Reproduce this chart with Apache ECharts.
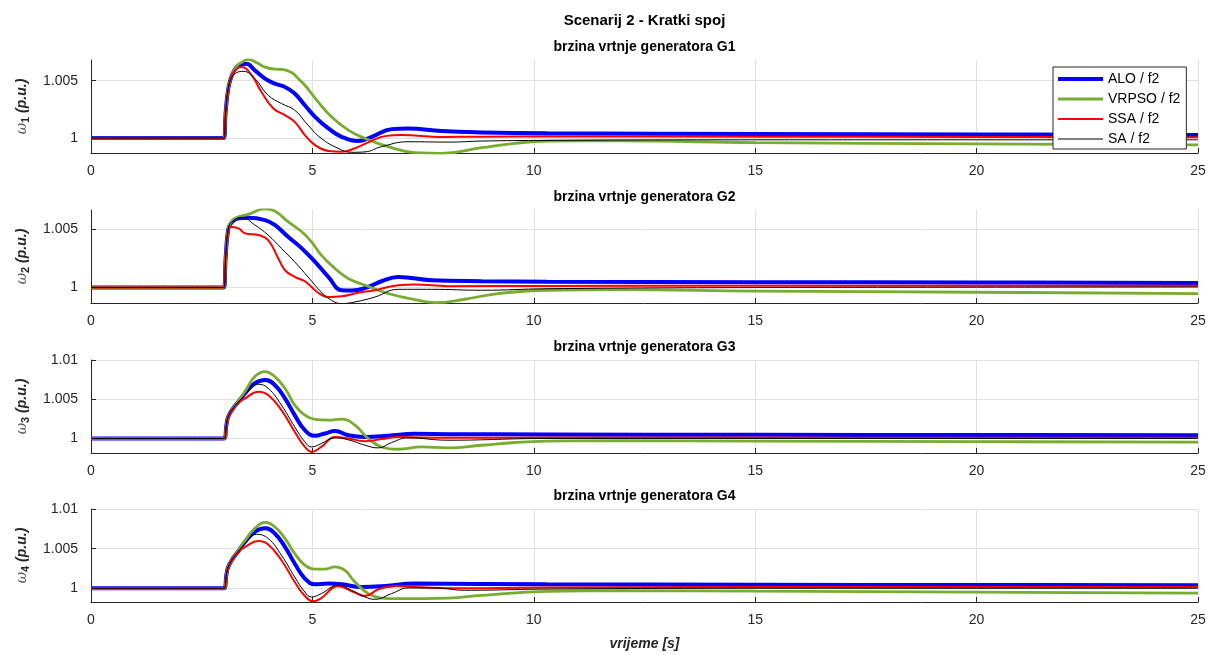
<!DOCTYPE html>
<html>
<head>
<meta charset="utf-8">
<script src="https://cdn.jsdelivr.net/npm/echarts@6/dist/echarts.min.js"></script>
<style>html,body{margin:0;padding:0;background:#fff;}#c{width:1210px;height:655px;}</style>
</head>
<body>
<div id="c"></div>
<script>
// ---- data ----
const seriesNames = ['ALO / f2', 'VRPSO / f2', 'SSA / f2', 'SA / f2'];
const plotTitles = ['brzina vrtnje generatora G1', 'brzina vrtnje generatora G2', 'brzina vrtnje generatora G3', 'brzina vrtnje generatora G4'];
const xTicks = [0, 5, 10, 15, 20, 25];
const yTicks = [[1, 1.005], [1, 1.005], [1, 1.005, 1.01], [1, 1.005, 1.01]];
const yRanges = [[0.9987, 1.0068], [0.99868, 1.00663], [0.99815, 1.01], [0.99827, 1.01]];

// G1
const g1_ALO = [[0,1],[3.0,1.0],[3.04,1.0022],[3.1,1.0043],[3.18,1.00546],[3.29,1.0062],[3.4,1.0064],[3.51,1.00648],[3.7,1.0059],[3.93,1.00518],[4.15,1.00474],[4.38,1.00445],[4.6,1.00388],[4.83,1.00286],[5.06,1.00185],[5.36,1.00084],[5.66,1.00011],[6.03,0.99974],[6.34,1.00011],[6.79,1.00078],[7.16,1.00084],[7.92,1.00061],[8.82,1.00049],[10.3,1.00041],[15,1.00036],[20,1.00031],[25,1.00027]];
const g1_VRPSO = [[0,1],[3.0,1.0],[3.04,1.0022],[3.1,1.0043],[3.18,1.00546],[3.29,1.00627],[3.4,1.00658],[3.55,1.00685],[3.75,1.00655],[3.93,1.00618],[4.15,1.006],[4.3,1.00598],[4.45,1.00585],[4.57,1.00561],[4.7,1.0051],[4.83,1.0046],[5.13,1.00315],[5.43,1.00185],[5.81,1.00069],[6.19,0.99997],[6.71,0.99925],[7.31,0.99873],[7.92,0.99867],[8.82,0.99916],[9.57,0.99954],[10.3,0.99974],[12,0.99975],[15,0.9996],[20,0.9995],[25,0.9994]];
const g1_SSA = [[0,1],[3.0,1.0],[3.04,1.0022],[3.1,1.0043],[3.18,1.00546],[3.29,1.00604],[3.4,1.00618],[3.63,1.00546],[3.85,1.00401],[4.12,1.00257],[4.38,1.002],[4.6,1.00141],[4.83,1.00026],[5.06,0.99939],[5.36,0.99887],[5.66,0.99881],[5.96,0.99911],[6.26,0.99963],[6.64,1.00017],[7.01,1.00026],[7.92,1.0001],[8.82,1.00012],[10.3,1.00015],[15,1.00012],[20,1.0001],[25,1.00008]];
const g1_SA = [[0,1],[3.0,1.0],[3.04,1.0022],[3.1,1.0043],[3.18,1.0053],[3.29,1.0057],[3.44,1.00581],[3.7,1.00518],[4.0,1.00373],[4.3,1.00301],[4.6,1.00243],[4.9,1.00113],[5.2,0.99997],[5.58,0.99911],[5.88,0.99876],[6.19,0.9988],[6.56,0.99925],[7.16,0.99968],[8.1,0.99965],[8.82,0.99974],[10.3,0.9998],[15,0.99985],[20,0.99985],[25,0.99985]];
// G2
const g2_ALO = [[0,1],[3.0,1.0],[3.04,1.0025],[3.1,1.005],[3.18,1.0056],[3.33,1.00592],[3.55,1.00597],[3.93,1.00577],[4.15,1.00535],[4.45,1.00434],[4.76,1.00335],[5.06,1.0022],[5.36,1.00091],[5.66,0.99977],[5.88,0.99974],[6.26,1.00005],[6.56,1.00054],[6.94,1.00091],[7.69,1.00063],[8.82,1.00054],[10.3,1.0005],[15,1.00046],[20,1.00043],[25,1.0004]];
const g2_VRPSO = [[0,1],[3.0,1.0],[3.04,1.0025],[3.1,1.005],[3.18,1.0057],[3.33,1.00605],[3.55,1.00626],[3.93,1.00672],[4.15,1.00655],[4.45,1.00563],[4.76,1.00477],[4.98,1.00391],[5.2,1.00277],[5.51,1.00163],[5.81,1.00077],[6.19,1.0002],[6.71,0.99949],[7.31,0.99897],[7.77,0.99871],[8.44,0.999],[9.19,0.99949],[10.3,0.99977],[12,0.99982],[15,0.9997],[20,0.9996],[25,0.99948]];
const g2_SSA = [[0,1],[3.0,1.0],[3.04,1.0025],[3.1,1.0049],[3.14,1.0052],[3.33,1.00506],[3.48,1.00463],[3.78,1.00449],[4.0,1.00406],[4.23,1.00249],[4.38,1.00148],[4.6,1.00091],[4.83,1.00054],[4.98,1.00005],[5.15,0.9995],[5.36,0.99919],[5.66,0.99925],[6.03,0.99955],[6.41,0.99977],[6.94,1.0002],[7.31,1.00026],[8.06,1.00012],[10.3,1.00014],[15,1.00016],[20,1.00016],[25,1.00015]];
const g2_SA = [[0,1],[3.0,1.0],[3.04,1.0025],[3.1,1.005],[3.18,1.0056],[3.4,1.006],[3.7,1.00535],[4.0,1.00449],[4.3,1.00335],[4.6,1.0022],[4.9,1.00091],[5.2,0.99962],[5.43,0.99891],[5.66,0.99863],[5.96,0.99877],[6.41,0.99919],[6.94,0.99985],[7.69,0.99985],[8.82,0.99977],[10.3,0.9999],[15,1.0],[20,1.00003],[25,1.00005]];
// G3
const g3_ALO = [[0,1],[3.0,1.0],[3.06,1.0018],[3.1,1.00277],[3.21,1.00384],[3.33,1.00469],[3.48,1.00576],[3.7,1.00704],[3.93,1.00746],[4.15,1.00682],[4.38,1.00512],[4.6,1.00298],[4.83,1.00106],[5.06,1.00034],[5.28,1.00064],[5.51,1.00094],[5.81,1.00042],[6.19,1.0002],[6.71,1.00034],[7.31,1.00059],[8.06,1.00055],[10.3,1.00051],[15,1.00047],[20,1.00044],[25,1.00042]];
const g3_VRPSO = [[0,1],[3.0,1.0],[3.06,1.0018],[3.1,1.00277],[3.21,1.00384],[3.33,1.00475],[3.5,1.0062],[3.7,1.00789],[3.93,1.00853],[4.15,1.00789],[4.38,1.0064],[4.6,1.00426],[4.83,1.00298],[5.06,1.00243],[5.36,1.00234],[5.66,1.00247],[5.96,1.0017],[6.26,1.0],[6.56,0.99892],[6.94,0.99863],[7.46,0.99892],[8.06,0.9988],[8.82,0.99914],[9.57,0.99949],[10.3,0.99966],[12,0.99972],[15,0.99966],[20,0.9996],[25,0.99953]];
const g3_SSA = [[0,1],[3.0,1.0],[3.06,1.0018],[3.1,1.00277],[3.21,1.00384],[3.33,1.00455],[3.48,1.00512],[3.78,1.00597],[4.0,1.00555],[4.3,1.00362],[4.6,1.00085],[4.83,0.99892],[4.98,0.99829],[5.2,0.99892],[5.51,1.0002],[5.81,1.0],[6.19,0.99966],[6.56,0.99992],[6.94,1.0002],[8.06,1.00008],[10.3,1.00013],[15,1.00012],[20,1.0001],[25,1.0001]];
const g3_SA = [[0,1],[3.0,1.0],[3.06,1.0018],[3.1,1.00277],[3.21,1.00384],[3.33,1.00465],[3.48,1.00555],[3.78,1.00691],[4.0,1.0064],[4.3,1.00426],[4.6,1.00149],[4.83,0.99957],[4.98,0.99892],[5.2,0.99936],[5.51,1.00008],[5.81,0.99983],[6.19,0.99914],[6.49,0.9988],[6.79,0.99949],[7.16,1.00008],[8.06,0.99978],[10.3,1.0],[15,1.0],[20,1.0],[25,1.0]];
// G4
const g4_ALO = [[0,1],[3.0,1.0],[3.06,1.0018],[3.1,1.0027],[3.21,1.0038],[3.33,1.0047],[3.48,1.00586],[3.7,1.00713],[3.93,1.00756],[4.15,1.00692],[4.38,1.00523],[4.6,1.00313],[4.83,1.00123],[5.06,1.00051],[5.36,1.00059],[5.66,1.0005],[6.11,1.00016],[6.56,1.00025],[7.31,1.00059],[10.3,1.0005],[15,1.00045],[20,1.00041],[25,1.00038]];
const g4_VRPSO = [[0,1],[3.0,1.0],[3.06,1.0018],[3.1,1.0027],[3.21,1.0038],[3.33,1.00478],[3.5,1.0062],[3.7,1.00756],[3.93,1.00832],[4.15,1.00776],[4.38,1.00629],[4.6,1.00439],[4.83,1.00291],[5.06,1.00241],[5.28,1.00241],[5.51,1.0027],[5.73,1.00228],[5.96,1.0008],[6.26,0.99933],[6.56,0.99877],[6.94,0.9987],[8.06,0.99877],[8.82,0.99911],[10.3,0.99962],[12,0.9997],[15,0.99963],[20,0.99952],[25,0.9994]];
const g4_SSA = [[0,1],[3.0,1.0],[3.06,1.0018],[3.1,1.0027],[3.21,1.0038],[3.33,1.00458],[3.48,1.00523],[3.78,1.00595],[4.0,1.00553],[4.3,1.00354],[4.6,1.0008],[4.83,0.99903],[5.02,0.99835],[5.2,0.99877],[5.58,1.00025],[5.96,0.99946],[6.19,0.99903],[6.49,0.99987],[6.86,1.00029],[7.31,1.00017],[8.06,1.0],[10.3,1.0001],[15,1.00015],[20,1.00015],[25,1.00015]];
const g4_SA = [[0,1],[3.0,1.0],[3.06,1.0018],[3.1,1.0027],[3.21,1.0038],[3.33,1.00468],[3.48,1.00566],[3.74,1.0068],[4.0,1.00629],[4.3,1.00418],[4.6,1.00143],[4.83,0.99953],[4.98,0.9989],[5.2,0.99933],[5.58,1.00038],[5.88,0.99975],[6.19,0.9989],[6.41,0.99861],[6.79,0.99933],[7.16,1.00004],[7.8,1.00004],[8.44,0.99975],[10.3,0.9999],[15,1.0],[20,1.0],[25,1.0]];

const allData = [
  [g1_ALO, g1_VRPSO, g1_SSA, g1_SA],
  [g2_ALO, g2_VRPSO, g2_SSA, g2_SA],
  [g3_ALO, g3_VRPSO, g3_SSA, g3_SA],
  [g4_ALO, g4_VRPSO, g4_SSA, g4_SA]
];

// ---- styling / layout ----
const FONT = '"Liberation Sans", Arial, Helvetica, sans-serif';
const AX = '#262626';
const GRIDC = '#e0e0e0';
const colors = ['#0000ff', '#77ac30', '#ff0000', '#000000'];
const widths = [4, 2.8, 2, 1];
const gridTops = [60, 210, 360, 509];
const gridH = 93;

const chart = echarts.init(document.getElementById('c'), null, {renderer: 'canvas'});

const grids = [], xAxes = [], yAxes = [], series = [], graphics = [];
for (let i = 0; i < 4; i++) {
  grids.push({left: 91, right: 12, top: gridTops[i], height: gridH, containLabel: false});
  xAxes.push({
    type: 'value', gridIndex: i, min: 0, max: 25, interval: 5,
    axisLine: {show: true, onZero: false, lineStyle: {color: AX, width: 1}},
    axisTick: {show: true, inside: true, length: 5, lineStyle: {color: AX}},
    axisLabel: {color: AX, fontSize: 14, fontFamily: FONT, margin: 11},
    splitLine: {show: true, lineStyle: {color: GRIDC, width: 1}},
    name: i === 3 ? 'vrijeme [s]' : '',
    nameLocation: 'middle', nameGap: 35,
    nameTextStyle: {color: AX, fontSize: 14, fontWeight: 'bold', fontStyle: 'italic', fontFamily: FONT}
  });
  yAxes.push({
    type: 'value', gridIndex: i, min: yRanges[i][0], max: yRanges[i][1],
    axisLine: {show: true, onZero: false, lineStyle: {color: AX, width: 1}},
    axisTick: {show: true, inside: true, length: 5, lineStyle: {color: AX}, customValues: yTicks[i]},
    axisLabel: {color: AX, fontSize: 14, fontFamily: FONT, margin: 13, customValues: yTicks[i],
      formatter: v => String(Math.round(v * 1000) / 1000)},
    splitLine: {show: true, lineStyle: {color: GRIDC, width: 1}},
    name: '{w|ω}{s|' + (i + 1) + '}{b| (p.u.)}',
    nameLocation: 'middle', nameRotate: 90, nameGap: 60,
    nameTextStyle: {
      color: AX, fontFamily: FONT,
      rich: {
        w: {fontSize: 14, fontStyle: 'italic', fontFamily: 'DejaVu Serif', color: '#555'},
        s: {fontSize: 11, fontWeight: 'bold', fontFamily: FONT, color: AX, verticalAlign: 'bottom', padding: [7, 0, 0, 0]},
        b: {fontSize: 14, fontWeight: 'bold', fontStyle: 'italic', fontFamily: FONT, color: AX}
      }
    }
  });
  for (let k = 0; k < 4; k++) {
    series.push({
      type: 'line', name: seriesNames[k], xAxisIndex: i, yAxisIndex: i,
      data: allData[i][k], showSymbol: false, symbol: 'none',
      smooth: 0.45,
      lineStyle: {color: colors[k], width: widths[k]},
      itemStyle: {color: colors[k]},
      emphasis: {disabled: true}, animation: false, clip: true
    });
  }
  graphics.push({
    type: 'text', x: 644.5, y: gridTops[i] - 13,
    style: {text: plotTitles[i], fill: '#000', font: 'bold 14px ' + FONT, textAlign: 'center', textVerticalAlign: 'middle'}
  });
}
graphics.push({
  type: 'text', x: 644.5, y: 21,
  style: {text: 'Scenarij 2 - Kratki spoj', fill: '#000', font: 'bold 15px ' + FONT, textAlign: 'center', textVerticalAlign: 'middle'}
});

chart.setOption({
  animation: false,
  backgroundColor: '#fff',
  grid: grids, xAxis: xAxes, yAxis: yAxes, series: series, graphic: graphics,
  legend: {
    show: true,
    data: seriesNames, orient: 'vertical', left: 1053, top: 67,
    itemWidth: 45, itemHeight: 14, itemGap: 6, padding: [5, 6, 3, 3],
    backgroundColor: '#fff', borderColor: AX, borderWidth: 1, borderRadius: 0,
    itemStyle: {opacity: 0},
    lineStyle: {width: 'inherit'},
    textStyle: {color: '#000', fontSize: 14, fontFamily: FONT},
    selectedMode: false
  }
});
</script>
</body>
</html>
